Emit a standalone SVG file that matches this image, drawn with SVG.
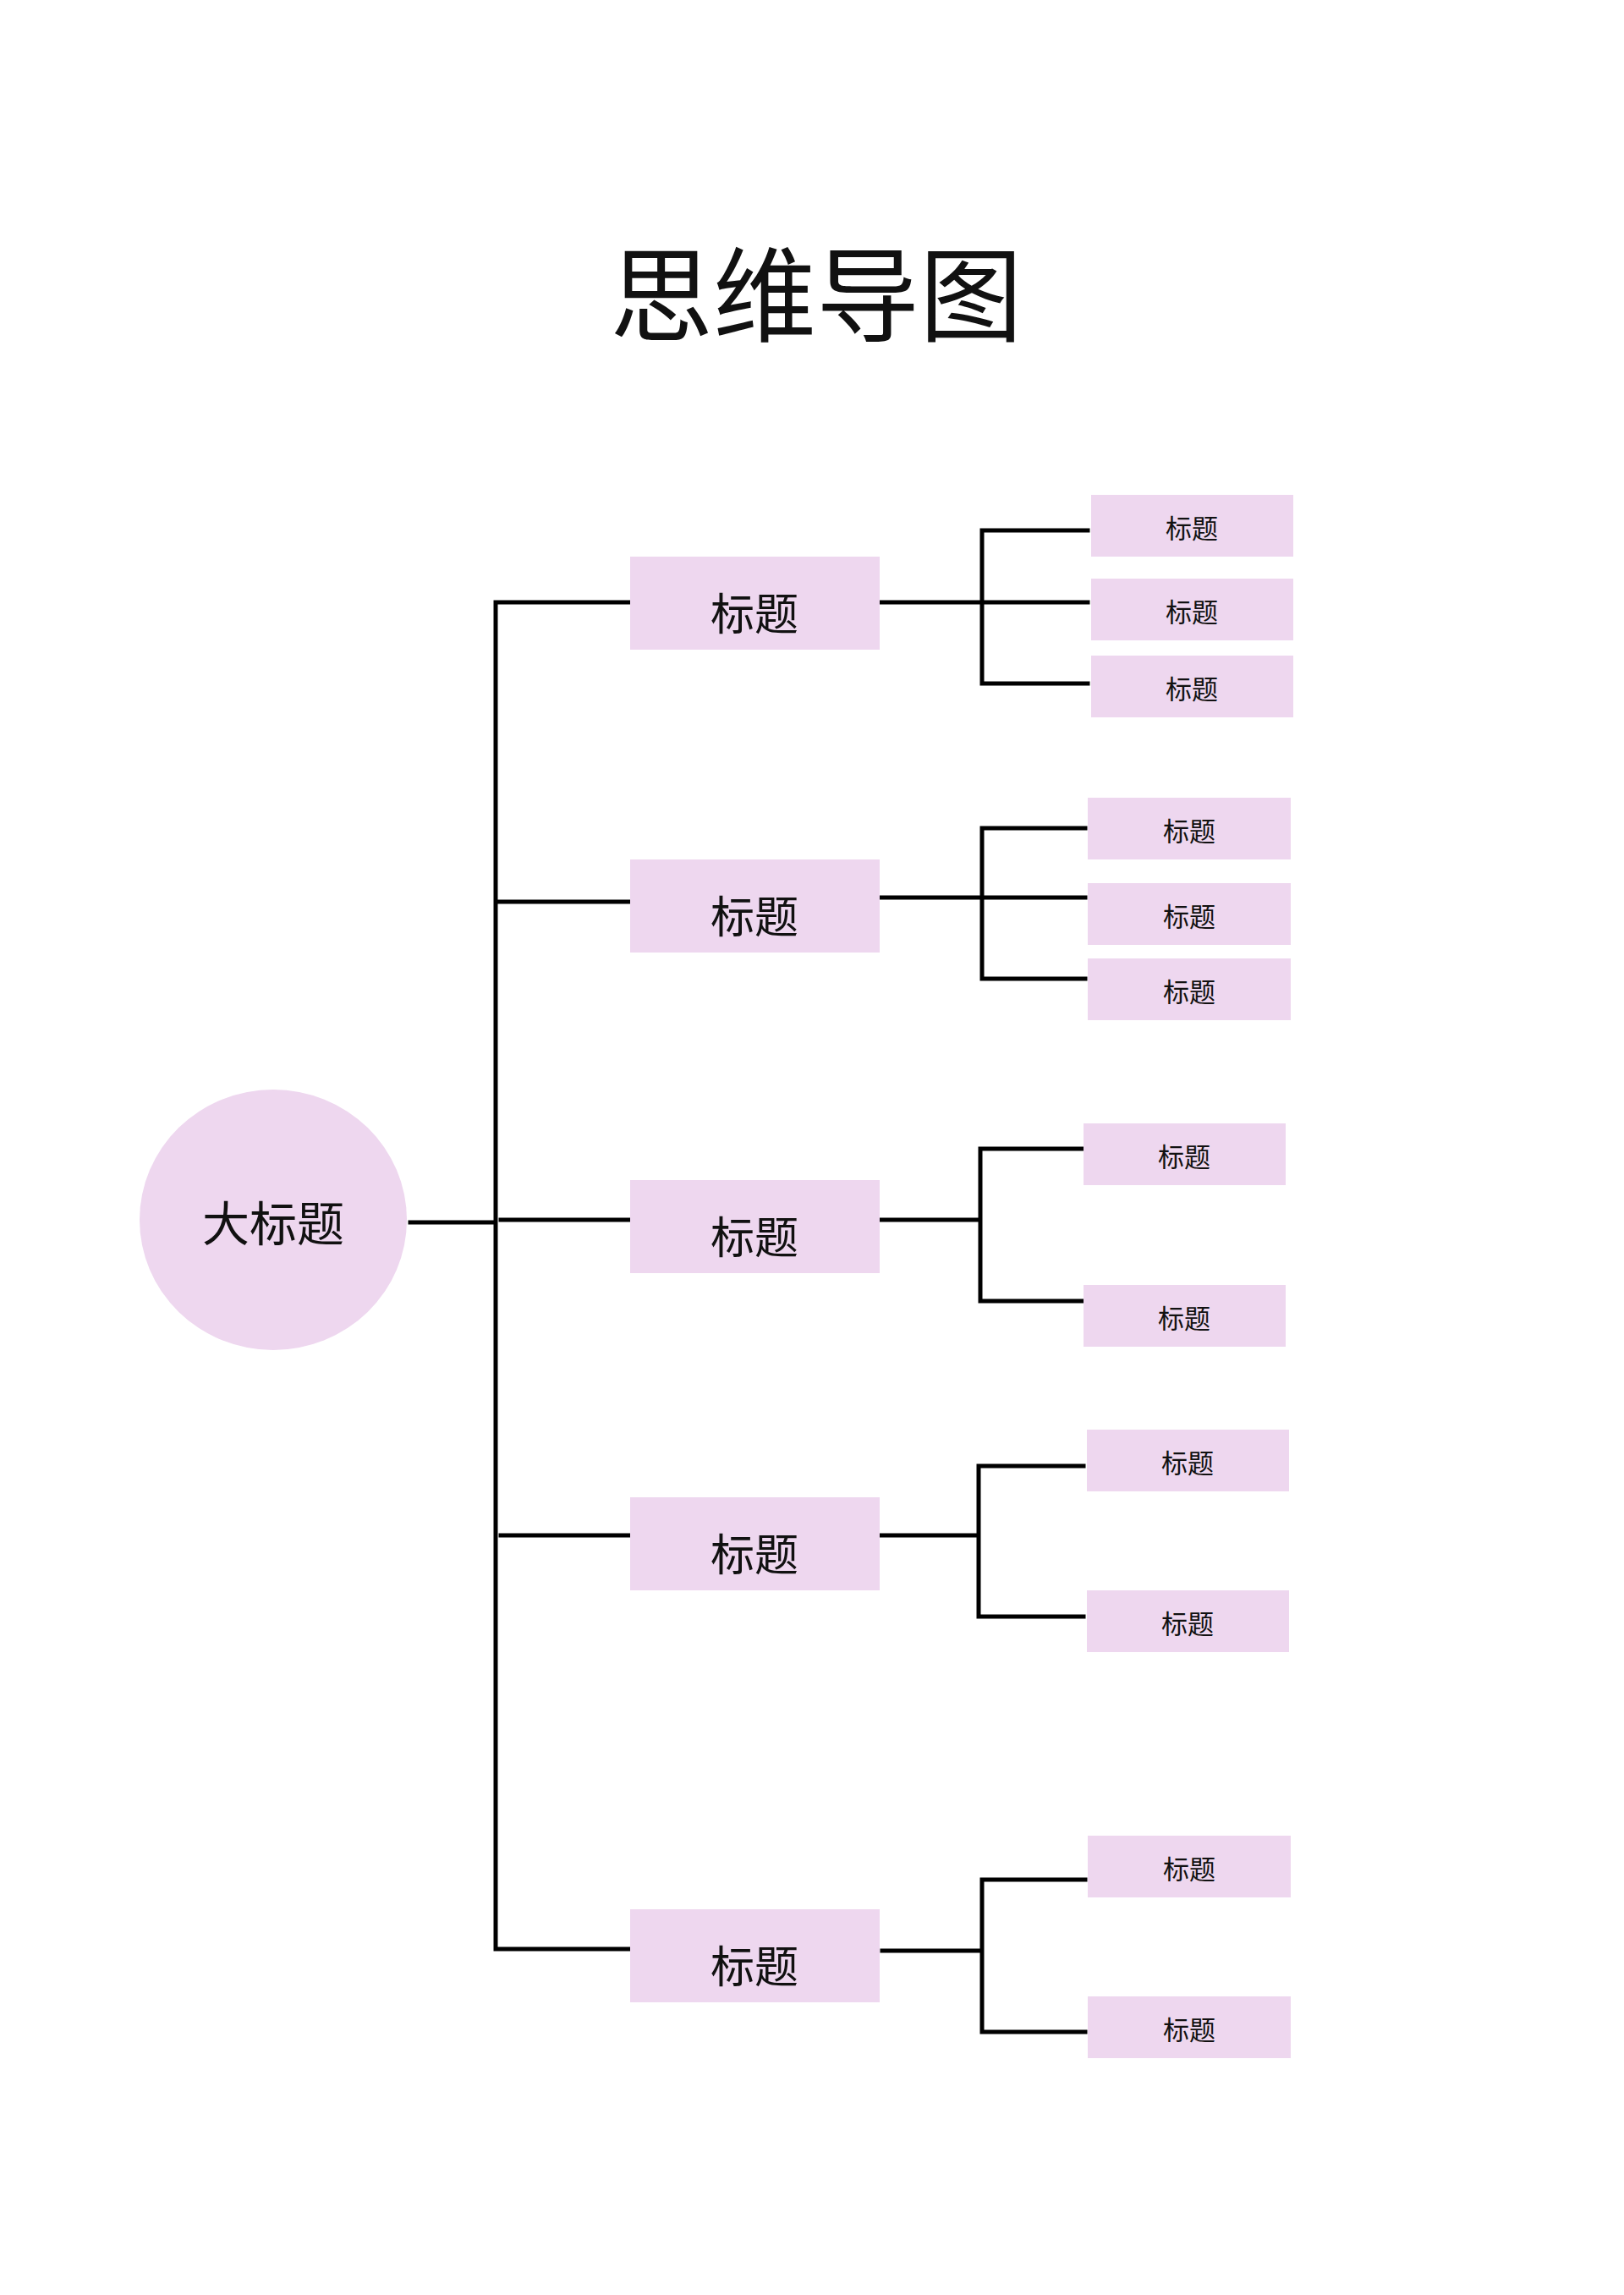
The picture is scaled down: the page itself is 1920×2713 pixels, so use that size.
<svg xmlns="http://www.w3.org/2000/svg" width="1920" height="2713" viewBox="0 0 1920 2713">
<style>
.n{fill:#eed7ef}
.t{font-family:"Noto Sans CJK SC","Liberation Sans",sans-serif;fill:#111;text-anchor:middle;dominant-baseline:central}
.l{stroke:#000;stroke-width:5;fill:none;stroke-linecap:square}
</style>
<rect width="1920" height="2713" fill="#fff"/>
<text class="t" x="965" y="340" font-size="122">思维导图</text>
<g id="edges">
<path class="l" d="M485 1445H586M586 712V2304M586 712H745M586 1066H745M592 1442H745M592 1815H745M586 2304H745"/>
<path class="l" d="M1040 712H1161M1161 627V808M1161 627H1286M1161 712H1286M1161 808H1286"/>
<path class="l" d="M1040 1061H1161M1161 979V1157M1161 979H1283M1161 1061H1283M1161 1157H1283"/>
<path class="l" d="M1040 1442H1159M1159 1358V1538M1159 1358H1279M1159 1538H1279"/>
<path class="l" d="M1040 1815H1157M1157 1733V1911M1157 1733H1281M1157 1911H1281"/>
<path class="l" d="M1043 2306H1161M1161 2222V2402M1161 2222H1283M1161 2402H1283"/>
</g>
<g id="root"><ellipse class="n" cx="323" cy="1442" rx="158" ry="154"/><text class="t" x="323" y="1442" font-size="56">大标题</text></g>
<g id="m1"><rect class="n" x="745" y="658" width="295" height="110"/><text class="t" x="892" y="722" font-size="52">标题</text></g>
<g id="m2"><rect class="n" x="745" y="1016" width="295" height="110"/><text class="t" x="892" y="1080" font-size="52">标题</text></g>
<g id="m3"><rect class="n" x="745" y="1395" width="295" height="110"/><text class="t" x="892" y="1459" font-size="52">标题</text></g>
<g id="m4"><rect class="n" x="745" y="1770" width="295" height="110"/><text class="t" x="892" y="1834" font-size="52">标题</text></g>
<g id="m5"><rect class="n" x="745" y="2257" width="295" height="110"/><text class="t" x="892" y="2321" font-size="52">标题</text></g>
<g id="l1a"><rect class="n" x="1290" y="585" width="239" height="73"/><text class="t" x="1409" y="622" font-size="31">标题</text></g>
<g id="l1b"><rect class="n" x="1290" y="684" width="239" height="73"/><text class="t" x="1409" y="721" font-size="31">标题</text></g>
<g id="l1c"><rect class="n" x="1290" y="775" width="239" height="73"/><text class="t" x="1409" y="812" font-size="31">标题</text></g>
<g id="l2a"><rect class="n" x="1286" y="943" width="240" height="73"/><text class="t" x="1406" y="980" font-size="31">标题</text></g>
<g id="l2b"><rect class="n" x="1286" y="1044" width="240" height="73"/><text class="t" x="1406" y="1081" font-size="31">标题</text></g>
<g id="l2c"><rect class="n" x="1286" y="1133" width="240" height="73"/><text class="t" x="1406" y="1170" font-size="31">标题</text></g>
<g id="l3a"><rect class="n" x="1281" y="1328" width="239" height="73"/><text class="t" x="1400" y="1365" font-size="31">标题</text></g>
<g id="l3b"><rect class="n" x="1281" y="1519" width="239" height="73"/><text class="t" x="1400" y="1556" font-size="31">标题</text></g>
<g id="l4a"><rect class="n" x="1285" y="1690" width="239" height="73"/><text class="t" x="1404" y="1727" font-size="31">标题</text></g>
<g id="l4b"><rect class="n" x="1285" y="1880" width="239" height="73"/><text class="t" x="1404" y="1917" font-size="31">标题</text></g>
<g id="l5a"><rect class="n" x="1286" y="2170" width="240" height="73"/><text class="t" x="1406" y="2207" font-size="31">标题</text></g>
<g id="l5b"><rect class="n" x="1286" y="2360" width="240" height="73"/><text class="t" x="1406" y="2397" font-size="31">标题</text></g>
</svg>
